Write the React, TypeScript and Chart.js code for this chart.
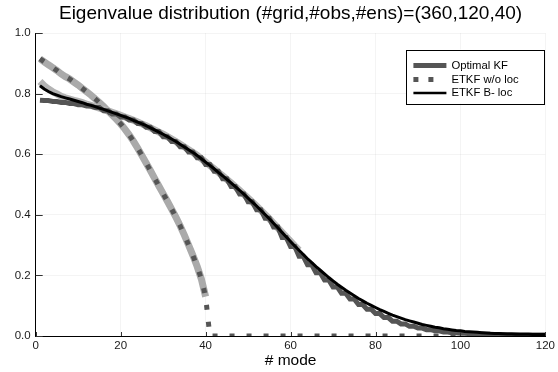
import React, { useEffect, useRef } from "react";
import { Chart, registerables } from "chart.js";

Chart.register(...registerables);

const FONT = '"Liberation Sans", Arial, Helvetica, sans-serif';
const TITLE = "Eigenvalue distribution (#grid,#obs,#ens)=(360,120,40)";
const X_LABEL = "# mode";
const X_TICKS = [0, 20, 40, 60, 80, 100, 120];
const Y_TICKS = [0, 0.2, 0.4, 0.6, 0.8, 1.0];
const SERIES_NAMES = ["Optimal KF", "ETKF w/o loc", "ETKF B- loc"];

// eigenvalue for mode 1..120
const OPTIMAL_KF = [
  0.778, 0.777, 0.777, 0.774, 0.774, 0.771, 0.771, 0.767, 0.767, 0.763,
  0.763, 0.759, 0.759, 0.754, 0.754, 0.743, 0.743, 0.733, 0.733, 0.723,
  0.723, 0.713, 0.713, 0.701, 0.701, 0.689, 0.689, 0.675, 0.675, 0.658,
  0.658, 0.642, 0.642, 0.625, 0.625, 0.607, 0.607, 0.588, 0.588, 0.566,
  0.566, 0.544, 0.544, 0.519, 0.519, 0.493, 0.493, 0.469, 0.469, 0.443,
  0.443, 0.417, 0.417, 0.389, 0.389, 0.360, 0.360, 0.325, 0.325, 0.295,
  0.295, 0.263, 0.263, 0.235, 0.235, 0.209, 0.209, 0.185, 0.185, 0.162,
  0.162, 0.141, 0.141, 0.122, 0.122, 0.104, 0.104, 0.088, 0.088, 0.074,
  0.074, 0.061, 0.061, 0.049, 0.049, 0.040, 0.040, 0.032, 0.032, 0.026,
  0.026, 0.021, 0.021, 0.017, 0.017, 0.013, 0.013, 0.011, 0.011, 0.009,
  0.009, 0.008, 0.008, 0.007, 0.007, 0.006, 0.006, 0.005, 0.005, 0.004,
  0.004, 0.004, 0.004, 0.003, 0.003, 0.003, 0.003, 0.003, 0.003, 0.003,
];

const ETKF_NOLOC = [
  0.915, 0.905, 0.895, 0.886, 0.876, 0.865, 0.856, 0.848, 0.838, 0.828,
  0.817, 0.806, 0.795, 0.783, 0.770, 0.757, 0.743, 0.729, 0.715, 0.700,
  0.683, 0.664, 0.643, 0.620, 0.596, 0.571, 0.546, 0.520, 0.495, 0.470,
  0.445, 0.419, 0.392, 0.364, 0.333, 0.300, 0.266, 0.230, 0.188, 0.130,
  0, 0, 0, 0, 0, 0, 0, 0, 0, 0,
  0, 0, 0, 0, 0, 0, 0, 0, 0, 0,
  0, 0, 0, 0, 0, 0, 0, 0, 0, 0,
  0, 0, 0, 0, 0, 0, 0, 0, 0, 0,
  0, 0, 0, 0, 0, 0, 0, 0, 0, 0,
  0, 0, 0, 0, 0, 0, 0, 0, 0, 0,
  0, 0, 0, 0, 0, 0, 0, 0, 0, 0,
  0, 0, 0, 0, 0, 0, 0, 0, 0, 0,
];

// light grey band under ETKF w/o loc (non-zero part only)
const ETKF_NOLOC_BAND = [
  0.915, 0.905, 0.895, 0.886, 0.876, 0.865, 0.856, 0.848, 0.838, 0.828,
  0.817, 0.806, 0.795, 0.783, 0.770, 0.757, 0.743, 0.729, 0.715, 0.700,
  0.683, 0.664, 0.643, 0.620, 0.596, 0.571, 0.546, 0.520, 0.495, 0.470,
  0.445, 0.419, 0.392, 0.364, 0.333, 0.300, 0.266, 0.230, 0.188, 0.130,
];

const ETKF_BLOC = [
  0.826, 0.815, 0.807, 0.800, 0.795, 0.790, 0.786, 0.782, 0.778, 0.774,
  0.770, 0.765, 0.761, 0.757, 0.752, 0.748, 0.743, 0.738, 0.733, 0.728,
  0.723, 0.718, 0.712, 0.706, 0.700, 0.694, 0.687, 0.680, 0.673, 0.666,
  0.658, 0.650, 0.642, 0.633, 0.624, 0.615, 0.606, 0.596, 0.585, 0.574,
  0.563, 0.552, 0.540, 0.529, 0.517, 0.505, 0.493, 0.481, 0.468, 0.455,
  0.442, 0.429, 0.415, 0.401, 0.387, 0.372, 0.357, 0.342, 0.327, 0.312,
  0.297, 0.283, 0.269, 0.255, 0.242, 0.229, 0.217, 0.205, 0.193, 0.182,
  0.171, 0.161, 0.151, 0.142, 0.133, 0.124, 0.116, 0.108, 0.101, 0.094,
  0.087, 0.081, 0.075, 0.069, 0.064, 0.059, 0.054, 0.050, 0.046, 0.042,
  0.038, 0.035, 0.032, 0.029, 0.027, 0.024, 0.022, 0.020, 0.018, 0.017,
  0.015, 0.014, 0.013, 0.012, 0.011, 0.010, 0.009, 0.0085, 0.008, 0.0075,
  0.007, 0.0065, 0.006, 0.006, 0.0055, 0.0055, 0.005, 0.005, 0.005, 0.005,
];

// light grey halo around ETKF B-loc (modes 1..62)
const ETKF_BLOC_HALO = [
  0.840, 0.826, 0.815, 0.806, 0.799, 0.791, 0.786, 0.782, 0.778, 0.774,
  0.770, 0.765, 0.761, 0.757, 0.752, 0.748, 0.743, 0.738, 0.733, 0.728,
  0.723, 0.718, 0.712, 0.706, 0.700, 0.694, 0.687, 0.680, 0.673, 0.666,
  0.658, 0.650, 0.642, 0.633, 0.624, 0.615, 0.606, 0.596, 0.585, 0.574,
  0.563, 0.552, 0.540, 0.529, 0.517, 0.505, 0.493, 0.481, 0.468, 0.455,
  0.442, 0.429, 0.415, 0.401, 0.387, 0.372, 0.357, 0.342, 0.327, 0.312,
  0.297, 0.283,
];

const toXY = (arr: number[]) => arr.map((v, i) => ({ x: i + 1, y: v }));

const overlay = {
  id: "overlay",
  afterDraw(chart: any) {
    const { ctx, chartArea: ca, scales } = chart;
    const xs = scales.x;
    const ys = scales.y;
    ctx.save();
    // inward tick marks
    ctx.strokeStyle = "#333";
    ctx.lineWidth = 1;
    for (const v of Y_TICKS) {
      const py = Math.round(ys.getPixelForValue(v)) + 0.5;
      ctx.beginPath();
      ctx.moveTo(ca.left, py);
      ctx.lineTo(ca.left + 7, py);
      ctx.stroke();
    }
    for (const v of X_TICKS) {
      const px = Math.round(xs.getPixelForValue(v)) + 0.5;
      ctx.beginPath();
      ctx.moveTo(px, ca.bottom);
      ctx.lineTo(px, ca.bottom - 4);
      ctx.stroke();
    }
    // title
    ctx.fillStyle = "#000";
    ctx.font = `19px ${FONT}`;
    ctx.textAlign = "center";
    ctx.textBaseline = "alphabetic";
    ctx.fillText(TITLE, (ca.left + ca.right) / 2, 18.5);

    // legend
    const bx = ca.right - 139;
    const by = ca.top + 16.5;
    const bw = 138;
    const bh = 54;
    ctx.fillStyle = "#fff";
    ctx.fillRect(bx, by, bw, bh);
    ctx.strokeStyle = "#000";
    ctx.lineWidth = 1;
    ctx.strokeRect(Math.round(bx) + 0.5, Math.round(by) + 0.5, bw, bh);
    const rows = [by + 16, by + 30, by + 43.5];
    const lx0 = bx + 7;
    const lx1 = bx + 40;
    ctx.lineCap = "butt";
    // Optimal KF
    ctx.strokeStyle = "#555";
    ctx.lineWidth = 5;
    ctx.beginPath();
    ctx.moveTo(lx0, rows[0]);
    ctx.lineTo(lx1, rows[0]);
    ctx.stroke();
    // ETKF w/o loc
    ctx.setLineDash([5, 10]);
    ctx.beginPath();
    ctx.moveTo(lx0, rows[1]);
    ctx.lineTo(lx1 - 8, rows[1]);
    ctx.stroke();
    ctx.setLineDash([]);
    // ETKF B-loc
    ctx.strokeStyle = "#000";
    ctx.lineWidth = 2.5;
    ctx.beginPath();
    ctx.moveTo(lx0, rows[2]);
    ctx.lineTo(lx1, rows[2]);
    ctx.stroke();
    ctx.fillStyle = "#000";
    ctx.font = `11.3px ${FONT}`;
    ctx.textAlign = "left";
    ctx.textBaseline = "middle";
    SERIES_NAMES.forEach((n, i) => ctx.fillText(n, bx + 45, rows[i]));
    ctx.restore();
  },
};

export default function App() {
  const ref = useRef<HTMLCanvasElement | null>(null);
  useEffect(() => {
    document.body.style.margin = "0";
    const canvas = ref.current;
    if (!canvas) return;
    const tickFont = { family: FONT, size: 11.5 };
    const chart = new Chart(canvas, {
      type: "line",
      data: {
        datasets: [
          {
            label: "ETKF B- loc",
            data: toXY(ETKF_BLOC),
            borderColor: "#000",
            borderWidth: 3,
            order: 1,
          },
          {
            label: "ETKF w/o loc",
            data: toXY(ETKF_NOLOC),
            borderColor: "#555",
            borderWidth: 5,
            borderDash: [5, 12],
            borderCapStyle: "butt",
            order: 2,
          },
          {
            label: "Optimal KF",
            data: toXY(OPTIMAL_KF),
            borderColor: "#555",
            borderWidth: 5,
            order: 3,
          },
          {
            label: "halo",
            data: toXY(ETKF_BLOC_HALO),
            borderColor: "#b4b4b4",
            borderWidth: 7,
            order: 4,
          },
          {
            label: "band",
            data: toXY(ETKF_NOLOC_BAND),
            borderColor: "#aaaaaa",
            borderWidth: 7,
            order: 5,
          },
        ] as any,
      },
      options: {
        animation: false,
        responsive: false,
        maintainAspectRatio: false,
        layout: { padding: { top: 33, right: 10, left: 0, bottom: 0 } },
        elements: { point: { radius: 0 }, line: { tension: 0, fill: false } },
        plugins: {
          legend: { display: false },
          title: { display: false },
          tooltip: { enabled: false },
        },
        scales: {
          x: {
            type: "linear",
            min: 0,
            max: 120,
            afterFit: (s: any) => {
              s.height = 36;
            },
            afterBuildTicks: (s: any) => {
              s.ticks = X_TICKS.map((v) => ({ value: v }));
            },
            ticks: {
              padding: 3,
              font: tickFont,
              color: "#1a1a1a",
              maxRotation: 0,
              autoSkip: false,
              callback: (v: any) => String(v),
            },
            grid: { color: "rgba(0,0,0,0.045)", drawTicks: false },
            border: { color: "#000", width: 1 },
            title: {
              display: true,
              text: X_LABEL,
              font: { family: FONT, size: 15.5 },
              color: "#000",
              padding: { top: 0, bottom: 2 },
            },
          },
          y: {
            type: "linear",
            min: 0,
            max: 1,
            afterFit: (s: any) => {
              s.width = 35.7;
            },
            afterBuildTicks: (s: any) => {
              s.ticks = Y_TICKS.map((v) => ({ value: v }));
            },
            ticks: {
              padding: 5,
              font: tickFont,
              color: "#1a1a1a",
              callback: (v: any) => Number(v).toFixed(1),
            },
            grid: { color: "rgba(0,0,0,0.045)", drawTicks: false },
            border: { color: "#000", width: 1 },
          },
        },
      } as any,
      plugins: [overlay],
    });
    return () => chart.destroy();
  }, []);
  return (
    <canvas
      ref={ref}
      width={558}
      height={372}
      style={{ display: "block", width: 558, height: 372 }}
    />
  );
}
